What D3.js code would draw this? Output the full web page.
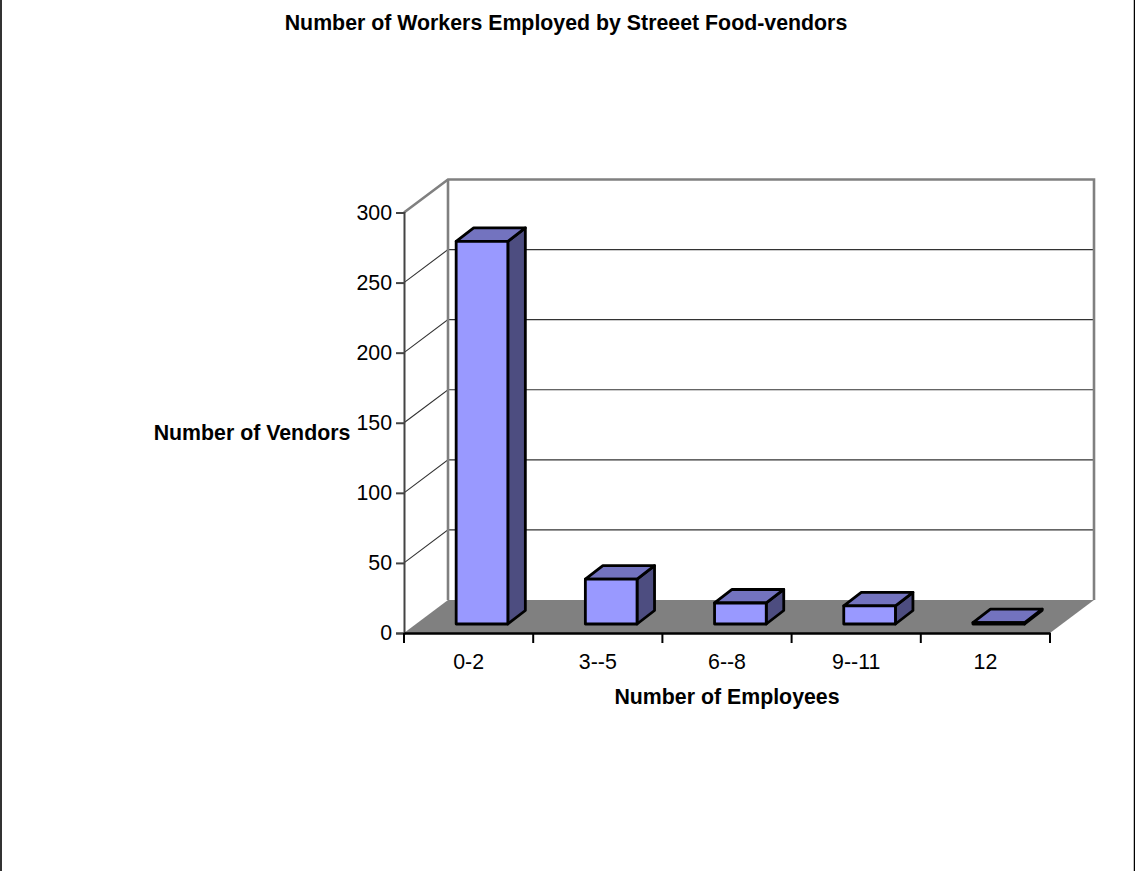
<!DOCTYPE html>
<html>
<head>
<meta charset="utf-8">
<script src="https://cdnjs.cloudflare.com/ajax/libs/d3/7.8.5/d3.min.js"></script>
<style>
  html, body { margin: 0; padding: 0; background: #fff; overflow: hidden; }
  text { font-family: "Liberation Sans", Arial, sans-serif; fill: #000; }
</style>
</head>
<body>
<div id="chart"></div>
<script>
var categories = ["0-2", "3--5", "6--8", "9--11", "12"];
var vendors = [273, 32, 15, 13, 1];
var yTicks = [0, 50, 100, 150, 200, 250, 300];

var w = 1135, h = 871;
var left = 404, right = 1050, bottom = 633, top_ = 212.5;
var fontSize = 21.33;
// 3d offset of the back wall
var depthX = 44, depthY = -33;
// bars stand part of the way into the floor
var barDX = 13.4, barDY = -9, barDepthX = 17.5, barDepthY = -13.5;

var xScale = d3.scaleBand()
  .domain(categories)
  .range([left, right])
  .paddingInner(0.6)
  .paddingOuter(0.3);

var yScale = d3.scaleLinear()
  .domain([0, 300])
  .range([bottom, top_]);

var svg = d3.select("#chart")
  .append("svg")
  .attr("width", w)
  .attr("height", h)
  .style("display", "block");

// frame of the chart area
svg.append("path")
  .attr("d", "M1,0V" + h)
  .attr("fill", "none")
  .attr("stroke", "#333")
  .attr("stroke-width", 2);
svg.append("path")
  .attr("d", "M1134.5,0V" + h)
  .attr("fill", "none")
  .attr("stroke", "#000")
  .attr("stroke-width", 1.5);

// floor
svg.append("path")
  .attr("d", `M${left},${bottom}L${left + depthX},${bottom + depthY}L${right + depthX},${bottom + depthY}L${right},${bottom}Z`)
  .attr("fill", "#808080");

// grid lines on side wall and back wall
var grid = yTicks.filter(d => d > 0 && d < 300);
svg.selectAll(".grid")
  .data(grid)
  .enter()
  .append("path")
  .attr("class", "grid")
  .attr("fill", "none")
  .attr("stroke", "#333")
  .attr("stroke-width", 1.1)
  .attr("d", d => `M${left},${yScale(d)}L${left + depthX},${yScale(d) + depthY}L${right + depthX},${yScale(d) + depthY}`);

// wall outline
svg.append("path")
  .attr("d", `M${left},${yScale(300)}L${left + depthX},${yScale(300) + depthY}L${right + depthX},${yScale(300) + depthY}L${right + depthX},${bottom + depthY}`)
  .attr("fill", "none")
  .attr("stroke", "#808080")
  .attr("stroke-width", 2.6);
svg.append("path")
  .attr("d", `M${left + depthX},${yScale(300) + depthY}V${bottom + depthY}`)
  .attr("fill", "none")
  .attr("stroke", "#808080")
  .attr("stroke-width", 2.6);

// axes
var yAxis = d3.axisLeft(yScale)
  .tickValues(yTicks)
  .tickSize(8)
  .tickPadding(4);
var yG = svg.append("g")
  .attr("transform", `translate(${left},0)`)
  .call(yAxis);
yG.selectAll("path, line").attr("stroke", "#444").attr("stroke-width", 2);
yG.selectAll("text").attr("font-size", fontSize).style("font-family", "Liberation Sans");

var xAxis = d3.axisBottom(xScale)
  .tickSize(0)
  .tickPadding(21);
var xG = svg.append("g")
  .attr("transform", `translate(0,${bottom})`)
  .call(xAxis);
xG.select("path").attr("stroke", "#000").attr("stroke-width", 2.6);
xG.selectAll("text").attr("font-size", fontSize).style("font-family", "Liberation Sans");

// tick marks sit between the categories
svg.selectAll(".xtick")
  .data(d3.range(categories.length + 1))
  .enter()
  .append("line")
  .attr("class", "xtick")
  .attr("x1", i => left + i * (right - left) / categories.length)
  .attr("x2", i => left + i * (right - left) / categories.length)
  .attr("y1", bottom)
  .attr("y2", bottom + 10)
  .attr("stroke", "#000")
  .attr("stroke-width", 2);

// bars
var bars = svg.selectAll(".bar")
  .data(categories.map((c, i) => ({ cat: c, value: vendors[i] })))
  .enter()
  .append("g")
  .attr("class", "bar")
  .attr("stroke", "#000")
  .attr("stroke-width", 2.8)
  .attr("stroke-linejoin", "round");

function fx(d) { return xScale(d.cat) + barDX; }
function fy(d) { return yScale(d.value) + barDY; }
var base = bottom + barDY;
var bw = xScale.bandwidth();

// side
bars.append("path")
  .attr("fill", "#4d4d80")
  .attr("d", d => `M${fx(d) + bw},${base}L${fx(d) + bw + barDepthX},${base + barDepthY}L${fx(d) + bw + barDepthX},${fy(d) + barDepthY}L${fx(d) + bw},${fy(d)}Z`);
// top
bars.append("path")
  .attr("fill", "#7373bf")
  .attr("d", d => `M${fx(d)},${fy(d)}L${fx(d) + barDepthX},${fy(d) + barDepthY}L${fx(d) + bw + barDepthX},${fy(d) + barDepthY}L${fx(d) + bw},${fy(d)}Z`);
// front
bars.append("rect")
  .attr("fill", "#9999ff")
  .attr("x", fx)
  .attr("y", fy)
  .attr("width", bw)
  .attr("height", d => base - fy(d));

// titles
svg.append("text")
  .attr("x", 566)
  .attr("y", 30)
  .attr("text-anchor", "middle")
  .attr("font-weight", "bold")
  .attr("font-size", fontSize)
  .text("Number of Workers Employed by Streeet Food-vendors");

svg.append("text")
  .attr("x", 727)
  .attr("y", 704)
  .attr("text-anchor", "middle")
  .attr("font-weight", "bold")
  .attr("font-size", fontSize)
  .text("Number of Employees");

svg.append("text")
  .attr("x", 252)
  .attr("y", 440)
  .attr("text-anchor", "middle")
  .attr("font-weight", "bold")
  .attr("font-size", fontSize)
  .text("Number of Vendors");
</script>
</body>
</html>
